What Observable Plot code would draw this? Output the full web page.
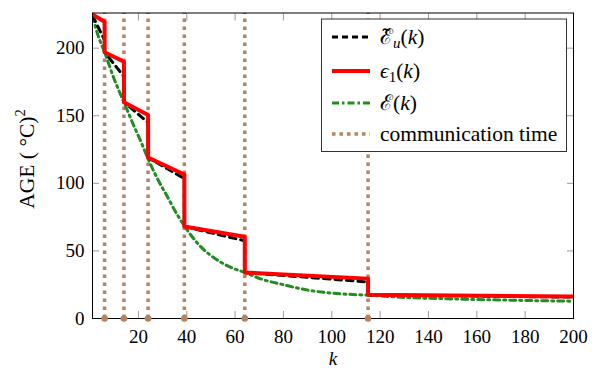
<!DOCTYPE html>
<html><head><meta charset="utf-8">
<script src="https://cdn.jsdelivr.net/npm/d3@7"></script>
<script src="https://cdn.jsdelivr.net/npm/@observablehq/plot@0.6"></script>
<style>
body{margin:0;background:#fff}
#chart svg text, #chart svg tspan { font-family: "Liberation Serif", "Times New Roman", "DejaVu Serif", serif !important; }
</style>
</head><body><div id="chart"></div>
<script>
// ---- data ----
const commTimes = [6, 14, 24, 39, 64, 115];
const segStartK = [1, 6, 14, 24, 39, 64, 115];
const segEndK   = [6, 14, 24, 39, 64, 115, 200];
const eps1Start = [225, 197, 160, 119, 68, 34, 17.5];
const eps1End   = [219.5, 190, 150.5, 106.5, 60.5, 29.5, 16.3];
const euStart   = [224, 197, 160, 119, 68, 34, 17.5];
const euEnd     = [206, 179, 145, 103.5, 57.5, 27, 15.8];
const eK   = [1, 3, 6, 10, 14, 18, 21, 24, 28, 32, 36, 39, 42, 47, 52, 58, 64, 72, 80, 90, 100, 115, 130, 150, 175, 200];
const eVal = [224, 211, 197, 177, 160, 143, 131, 118, 103, 90, 77, 68.5, 61, 51, 44, 38, 34, 28.5, 25, 21, 18.8, 17.2, 15.6, 14.5, 13.5, 12.8];
const xTicks = [20, 40, 60, 80, 100, 120, 140, 160, 180, 200];
const yTicks = [0, 50, 100, 150, 200];
const xDomain = [1, 200];
const yDomain = [0, 226];
const legendLabels = ["communication time"];

// ---- build tables ----
const segData = (s, e) => segStartK.flatMap((k, i) => [{k, v: s[i]}, {k: segEndK[i], v: e[i]}]);
const redData = segData(eps1Start, eps1End);
const blackData = segData(euStart, euEnd);
const greenData = eK.map((k, i) => ({k, v: eVal[i]}));

const brown = "#b5835f", green = "#228b22", tickGray = "#9a9a9a";
const font = "Liberation Serif, Times New Roman, DejaVu Serif, serif";
const greenDash = "6,4,2,4", blackDash = "6.5,5";

const chart = Plot.plot({
  width: 600, height: 369,
  marginLeft: 92, marginRight: 27, marginTop: 12.5, marginBottom: 51,
  style: {fontFamily: font, fontSize: "19px", color: "#000", background: "#fff"},
  x: {domain: xDomain},
  y: {domain: yDomain},
  marks: [
    Plot.ruleX(commTimes, {x: d => d, y1: yDomain[0], y2: yDomain[1], stroke: brown, strokeWidth: 3.5, strokeDasharray: "3.5,4.5", clip: true}),
    Plot.line(greenData, {x: "k", y: "v", stroke: green, strokeWidth: 3, strokeDasharray: greenDash, curve: "monotone-x", clip: true}),
    Plot.line(blackData, {x: "k", y: "v", stroke: "#000", strokeWidth: 3, strokeDasharray: blackDash, clip: true}),
    Plot.line(redData, {x: "k", y: "v", stroke: "#f00", strokeWidth: 4, clip: true}),
    Plot.axisX({ticks: xTicks, anchor: "bottom", tickSize: 0, tickPadding: 11, label: null, fontSize: 19, fontFamily: font}),
    Plot.axisX({ticks: xTicks, anchor: "bottom", tickSize: 7, dy: -7, text: null, label: null, stroke: tickGray}),
    Plot.axisX({ticks: xTicks, anchor: "top", tickSize: 7, dy: 7, text: null, label: null, stroke: tickGray}),
    Plot.axisY({ticks: yTicks, anchor: "left", tickSize: 0, tickPadding: 8, label: null, fontSize: 19, fontFamily: font}),
    Plot.axisY({ticks: yTicks, anchor: "left", tickSize: 7, dx: 7, text: null, label: null, stroke: tickGray}),
    Plot.axisY({ticks: yTicks, anchor: "right", tickSize: 7, dx: -7, text: null, label: null, stroke: tickGray}),
    Plot.frame({stroke: "#000", strokeWidth: 1}),
    Plot.dot(commTimes, {x: d => d, y: yDomain[0], r: 3.3, fill: brown})
  ]
});
document.getElementById("chart").appendChild(chart);

// ---- axis titles & legend ----
const svg = d3.select(chart);
svg.append("text").attr("x", 333).attr("y", 364.5).attr("text-anchor", "middle")
  .attr("font-size", 19).attr("font-style", "italic").text("k");

const yl = svg.append("text").attr("transform", "translate(33.5,159) rotate(-90)")
  .attr("text-anchor", "middle").attr("font-size", 21.5);
yl.append("tspan").text("AGE ( °C)");
yl.append("tspan").attr("font-size", 14.5).attr("dy", -9).text("2");

const lg = svg.append("g").attr("font-size", 21.5).attr("text-anchor", "start");
lg.append("rect").attr("x", 321.5).attr("y", 19).attr("width", 245).attr("height", 132.5)
  .attr("fill", "#fff").attr("stroke", "#333").attr("stroke-width", 1);
const rows = [
  {y: 37, stroke: "#000", w: 3, dash: "6,4"},
  {y: 71, stroke: "#f00", w: 4, dash: null},
  {y: 103, stroke: green, w: 3, dash: "7,3,2.5,3"},
  {y: 134, stroke: brown, w: 3.5, dash: "3.5,4"}
];
rows.forEach(r => {
  lg.append("line").attr("x1", 332).attr("x2", 370).attr("y1", r.y).attr("y2", r.y)
    .attr("stroke", r.stroke).attr("stroke-width", r.w).attr("stroke-dasharray", r.dash);
});
function lab(y) { return lg.append("text").attr("x", 380).attr("y", y + 7).attr("text-anchor", "start"); }
let t = lab(37);
t.append("tspan").text("\u2130\u0303");
t.append("tspan").attr("font-style", "italic").attr("font-size", 15).attr("dy", 4).text("u");
t.append("tspan").attr("dy", -4).text("(");
t.append("tspan").attr("font-style", "italic").text("k");
t.append("tspan").text(")");
t = lab(71);
t.append("tspan").attr("font-style", "italic").text("\u03F5");
t.append("tspan").attr("font-size", 15).attr("dy", 4).text("1");
t.append("tspan").attr("dy", -4).text("(");
t.append("tspan").attr("font-style", "italic").text("k");
t.append("tspan").text(")");
t = lab(103);
t.append("tspan").text("\u2130(");
t.append("tspan").attr("font-style", "italic").text("k");
t.append("tspan").text(")");
lab(134).text(legendLabels[0]);
</script></body></html>
